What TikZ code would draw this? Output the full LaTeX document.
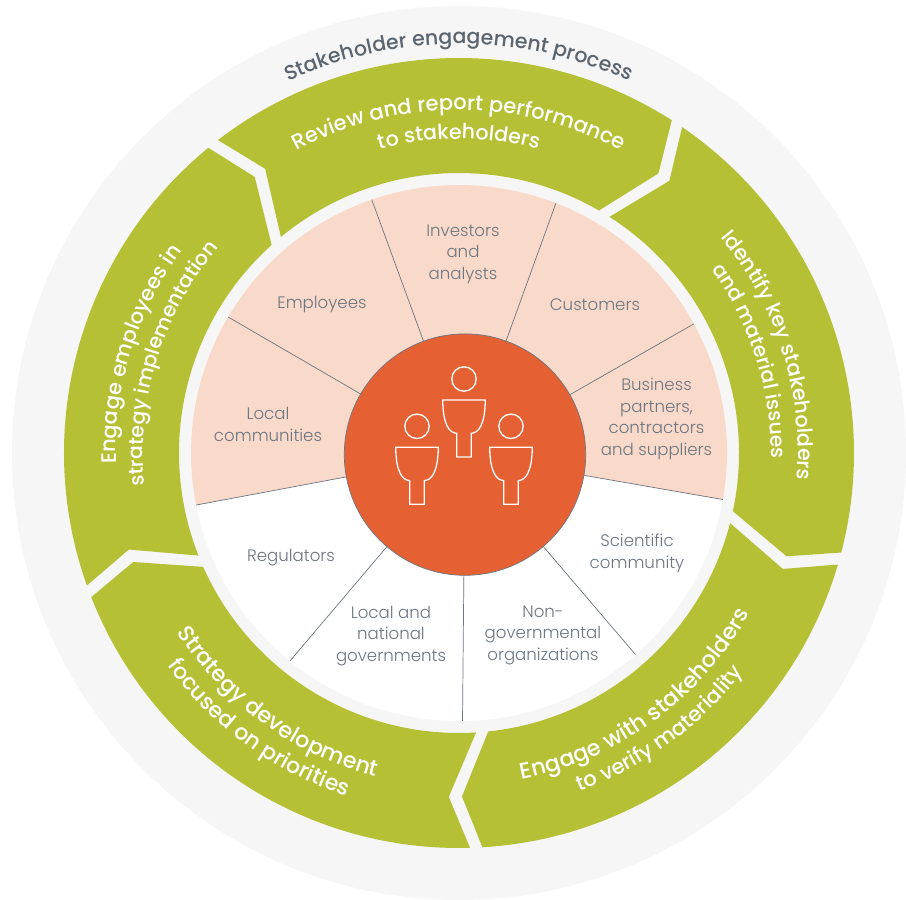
\documentclass[tikz,border=0pt]{standalone}
\usepackage{fontspec}
\setmainfont{Poppins Medium}
\newfontfamily\lightf{Poppins Light}
\usetikzlibrary{decorations.text}
\definecolor{ringgrey}{HTML}{F6F6F6}
\definecolor{segreen}{HTML}{B5C035}
\definecolor{sectpink}{HTML}{F9D9C9}
\definecolor{hubred}{HTML}{E56133}
\definecolor{labgrey}{HTML}{6C7681}
\definecolor{titlegrey}{HTML}{5A6570}
\definecolor{linegrey}{HTML}{6C7681}
\newcommand{\greenseg}[1]{%
  \fill[segreen,rotate=#1] (127.6:395) arc[start angle=127.6,end angle=57.4,radius=395]
    -- (54.5:343.5) -- (60:280) arc[start angle=60,end angle=129.5,radius=280] -- (124.3:344) -- cycle;}
% radius, start angle, end angle, format, text
\newcommand{\arctext}[5]{%
  \path[postaction={decorate,decoration={text along path,text align=center,
     text={|#4|#5}}}] (#2:#1) arc[start angle=#2,end angle=#3,radius=#1];}
\newcommand{\wsz}[1]{\color{white}\fontsize{#1}{24}\selectfont}
\newcommand{\tsz}{\color{titlegrey}\fontsize{20.5}{24}\selectfont}
\newcommand{\person}[3]{%
  \begin{scope}[shift={(#1,#2)},iconline]
    \draw (0,0) circle[radius=12.2];
    \draw (-21.3,-21) -- (21.3,-21) .. controls (21,-45) and (15,-54) .. (7.3,-54.3)
      -- (7.3,-78) -- (-7.3,-78) -- (-7.3,-54.3) .. controls (-15,-54) and (-21,-45) .. (-21.3,-21) -- cycle;
  \end{scope}}
\tikzset{
  x=1pt,y=1pt,
  sectlab/.style={font=\lightf\fontsize{16.6}{21.5}\selectfont,text=labgrey,align=center,inner sep=0pt},
  spoke/.style={draw=linegrey,line width=0.7pt},
  iconline/.style={draw=white,line width=1.3pt},
}
\begin{document}
\begin{tikzpicture}
\useasboundingbox (-459,-447) rectangle (447,453);
\fill[white] (-459,-447) rectangle (447,453);
\fill[ringgrey] (0,0) circle[radius=447];
\greenseg{0}\greenseg{-72}\greenseg{-144}\greenseg{-216}\greenseg{-288}
% sectors
\coordinate (hubc) at (6,-1.6);
\fill[white] (0,0) circle[radius=268];
\fill[sectpink] (-10:268) arc[start angle=-10,end angle=191.2,radius=268] -- (hubc) -- cycle;
\foreach \a/\n in {-10/r1,191.2/r2,109/r3,68.8/r4,28.8/r5,149.5/r6,-48.8/r7,230.9/r8,-89.25/r9}{
  \coordinate (\n) at (\a:268);
  \draw[spoke] (hubc) -- (\n);
}
\node[circle,fill=hubred,draw=linegrey,line width=0.7pt,minimum size=241.4pt,inner sep=0pt] (hub) at (hubc) {};
\person{5}{74}{}
\person{-42}{26.7}{}
\person{52}{26.7}{}
% sector labels
\node[sectlab] (inv) at (4,199) {Investors\\and\\analysts};
\node[sectlab] (emp) at (-137,148) {Employees};
\node[sectlab] (cus) at (136,148) {Customers};
\node[sectlab] (loc) at (-191,28.5) {Local\\communities};
\node[sectlab] (biz) at (197.5,34) {Business\\partners,\\contractors\\and suppliers};
\node[sectlab] (reg) at (-168,-105) {Regulators};
\node[sectlab] (gov) at (-68,-183) {Local and\\national\\governments};
\node[sectlab] (ngo) at (84,-182) {Non-\\governmental\\organizations};
\node[sectlab] (sci) at (178,-100.5) {Scientific\\community};
% curved labels
\arctext{409}{170}{10}{\tsz}{Stakeholder engagement process}
\arctext{343}{170}{10}{\wsz{21.1}}{Review and report performance}
\arctext{314}{170}{10}{\wsz{20.6}}{to stakeholders}
\arctext{339}{97.5}{-62.5}{\wsz{20.8}}{Identify key stakeholders}
\arctext{312}{97.5}{-62.5}{\wsz{20.3}}{and material issues}
\arctext{332}{-134}{26}{\wsz{22.4}}{Engage with stakeholders}
\arctext{359}{-134}{26}{\wsz{21}}{to verify materiality}
\arctext{334}{154}{314}{\wsz{22.3}}{Strategy development}
\arctext{361}{154}{314}{\wsz{22}}{focused on priorities}
\arctext{343}{242.8}{82.8}{\wsz{21}}{Engage employees in}
\arctext{316}{242.7}{82.7}{\wsz{20.3}}{strategy implementation}
\end{tikzpicture}
\end{document}
